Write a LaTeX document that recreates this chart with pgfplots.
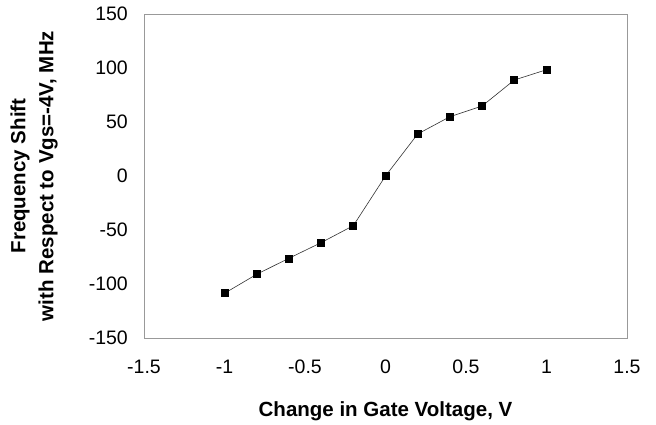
\documentclass[border=0pt]{standalone}
\usepackage{pgfplots}
\pgfplotsset{compat=1.18}
\usepackage{fontspec}
\setmainfont{Liberation Sans}
\begin{document}
\begin{tikzpicture}
\begin{axis}[
  scale only axis,
  width=483pt, height=324pt,
  at={(0pt,0pt)}, anchor=south west,
  xmin=-1.5, xmax=1.5, ymin=-150, ymax=150,
  xtick={-1.5,-1,...,1.5}, ytick={-150,-100,...,150},
  xticklabels={-1.5,-1,-0.5,0,0.5,1,1.5},
  yticklabels={-150,-100,-50,0,50,100,150},
  major tick length=0pt,
  axis line style={draw=black!40, line width=0.8pt},
  /pgf/number format/assume math mode=true,
  tick label style={font=\fontsize{19.5}{21}\selectfont, text=black},
  xticklabel style={anchor=north, inner sep=0pt, yshift=-22pt},
  yticklabel style={anchor=east, inner sep=0pt, xshift=-16pt},
  xlabel={Change in Gate Voltage, V},
  ylabel={Frequency Shift\\with Respect to Vgs=-4V, MHz},
  xlabel style={at={(axis description cs:0.5,0)}, anchor=base, inner sep=0pt, yshift=-78pt, font=\bfseries\fontsize{20.5}{22}\selectfont},
  ylabel style={at={([xshift=-110pt]axis description cs:0,0.5)}, anchor=center, inner sep=0pt, align=center, font=\bfseries\fontsize{20.5}{28}\selectfont},
  clip=false,
]
\addplot[black!80, line width=0.6pt, mark=square*, mark size=3.5pt, mark options={fill=black, draw=black, solid}] coordinates {
(-1,-108.6) (-0.8,-91) (-0.6,-76.2) (-0.4,-61.7) (-0.2,-46) (0,0) (0.2,38.9) (0.4,54.9) (0.6,64.8) (0.8,88.9) (1,98.4)
};
\end{axis}
\path (-144pt,-86pt) rectangle (512pt,338pt);
\end{tikzpicture}
\end{document}
